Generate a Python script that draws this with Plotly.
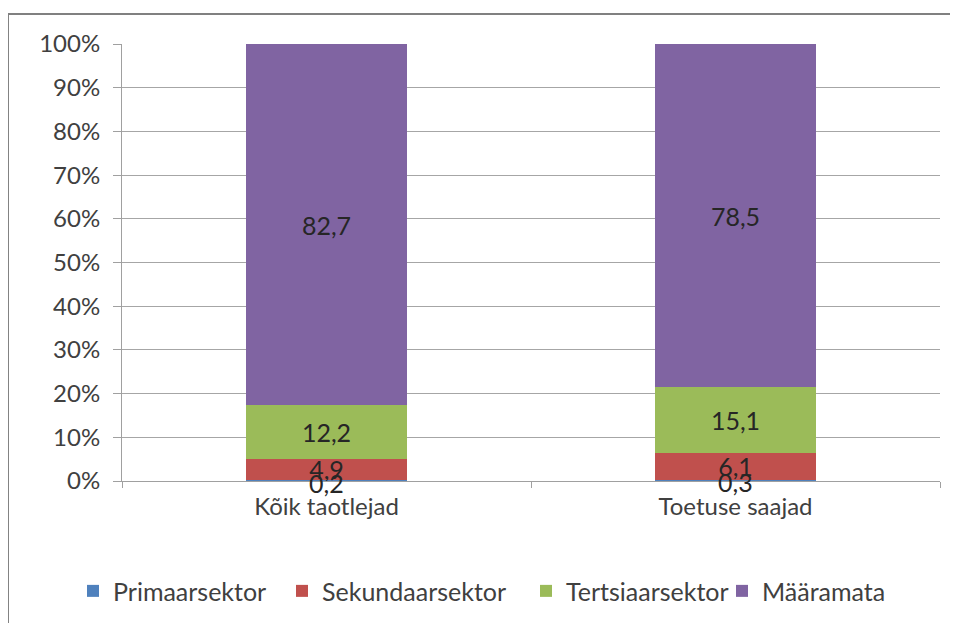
import plotly.graph_objects as go

categories = ["Kõik taotlejad", "Toetuse saajad"]
sectors = ["Primaarsektor", "Sekundaarsektor", "Tertsiaarsektor", "Määramata"]
primaar = [0.2, 0.3]
sekundaar = [4.9, 6.1]
tertsiaar = [12.2, 15.1]
maaramata = [82.7, 78.5]
y_ticks = [0, 10, 20, 30, 40, 50, 60, 70, 80, 90, 100]

colors = ["#4F81BD", "#C0504D", "#9BBB59", "#8064A2"]
font = "Lato, 'Open Sans', sans-serif"
# one legend per series so the entries can sit where the reference has them
legend_x = [-0.0599, 0.1956, 0.4939, 0.7335]


def fmt(v):
    return f"{v:.1f}".replace(".", ",")


x_pos = list(range(len(categories)))

fig = go.Figure()
for i, (name, vals, col) in enumerate(zip(sectors, [primaar, sekundaar, tertsiaar, maaramata], colors)):
    # the primary sector segments are too thin for inside text; label them with annotations
    show_text = name != "Primaarsektor"
    fig.add_trace(go.Bar(
        x=x_pos, y=vals, name=name,
        marker=dict(color=col, line=dict(width=0)),
        text=[fmt(v) for v in vals] if show_text else None,
        textposition="inside", insidetextanchor="middle",
        textfont=dict(size=25, color="#262626", family=font),
        width=0.395,
        legend="legend" if i == 0 else f"legend{i + 1}",
    ))

annotations = [
    dict(x=x, y=v / 2, text=fmt(v), showarrow=False, yanchor="middle",
         font=dict(size=25, color="#262626", family=font), yshift=-2)
    for x, v in zip(x_pos, primaar)
]

legends = {}
for i, lx in enumerate(legend_x):
    key = "legend" if i == 0 else f"legend{i + 1}"
    legends[key] = dict(x=lx, xanchor="left", y=-0.252, yanchor="middle",
                        font=dict(size=25, color="#404040"), itemwidth=30,
                        bgcolor="rgba(0,0,0,0)")

fig.update_layout(
    barmode="stack",
    width=958, height=623,
    margin=dict(l=114, r=26, t=36, b=150),
    paper_bgcolor="white", plot_bgcolor="white",
    font=dict(family=font, size=24, color="#404040"),
    uniformtext=dict(minsize=25, mode="show"),
    showlegend=True,
    xaxis=dict(
        range=[-0.5, 1.5], tickvals=x_pos, ticktext=categories, ticks="",
        showgrid=False, showline=True, linecolor="#a0a0a0", linewidth=1,
        zeroline=False, ticklabelstandoff=4,
        minor=dict(tickvals=[-0.5, 0.5, 1.5], ticks="outside", ticklen=6,
                   tickcolor="#a0a0a0", showgrid=False),
        tickfont=dict(size=24, color="#404040"),
    ),
    yaxis=dict(
        range=[0, 100], tickvals=y_ticks, ticktext=[f"{t}%" for t in y_ticks],
        showgrid=True, gridcolor="#a6a6a6", gridwidth=1,
        showline=True, linecolor="#a0a0a0", linewidth=1,
        ticks="outside", ticklen=8, tickcolor="#a0a0a0", ticklabelstandoff=8,
        zeroline=False, tickfont=dict(size=24, color="#404040"),
    ),
    annotations=annotations,
    shapes=[dict(type="rect", xref="paper", yref="paper",
                 x0=-0.1394, x1=1.05, y0=-0.4, y1=1.0686,
                 line=dict(color="#808080", width=2), layer="below")],
    **legends,
)

fig.write_html("out.html")
